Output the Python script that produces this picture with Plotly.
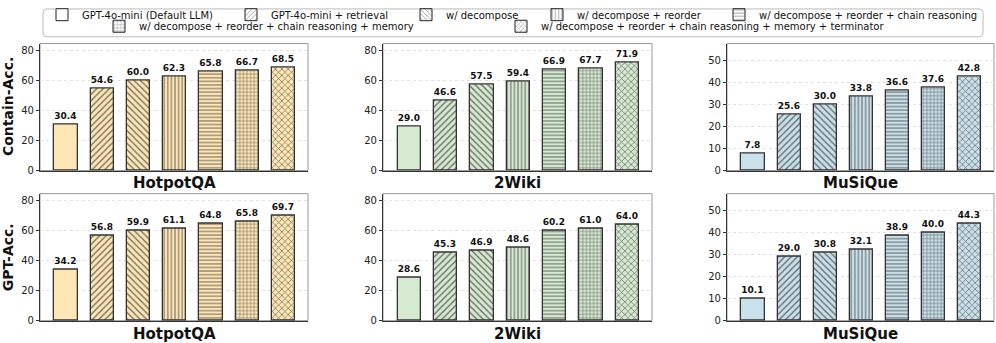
"""Ablation bars — Contain-Acc. / GPT-Acc. on HotpotQA, 2Wiki and MuSiQue.

Two rows (metric) x three columns (dataset), one hatched bar per variant.
"""
from __future__ import annotations

import plotly.graph_objects as go

FONT = "DejaVu Sans"

VARIANTS = [
    "GPT-4o-mini (Default LLM)",
    "GPT-4o-mini + retrieval",
    "w/ decompose",
    "w/ decompose + reorder",
    "w/ decompose + reorder + chain reasoning",
    "w/ decompose + reorder + chain reasoning + memory",
    "w/ decompose + reorder + chain reasoning + memory + terminator",
]
HATCHES = ["", "/", "\\", "|", "-", "+", "x"]

DATASETS = ["HotpotQA", "2Wiki", "MuSiQue"]
METRICS = ["Contain-Acc.", "GPT-Acc."]

hotpot_contain = [30.4, 54.6, 60.0, 62.3, 65.8, 66.7, 68.5]
wiki_contain = [29.0, 46.6, 57.5, 59.4, 66.9, 67.7, 71.9]
musique_contain = [7.8, 25.6, 30.0, 33.8, 36.6, 37.6, 42.8]
hotpot_gpt = [34.2, 56.8, 59.9, 61.1, 64.8, 65.8, 69.7]
wiki_gpt = [28.6, 45.3, 46.9, 48.6, 60.2, 61.0, 64.0]
musique_gpt = [10.1, 29.0, 30.8, 32.1, 38.9, 40.0, 44.3]

VALUES = [
    [hotpot_contain, wiki_contain, musique_contain],
    [hotpot_gpt, wiki_gpt, musique_gpt],
]

FILLS = ["#FFE6B5", "#D5EAD0", "#C9E1EA"]
Y_MAX = [84.5, 84.5, 57.8]
Y_DTICK = [20, 20, 10]

# layout in pixels (figure is 996 x 343, no margins)
W, H = 996, 343
COL_X = [(40, 308), (383, 652), (727, 994)]
ROW_Y = [(38, 170), (194, 326)]


def px_x(x):
    return x / W


def px_y(y):
    return 1 - y / H


fig = go.Figure()
shapes, annotations = [], []

for r, metric in enumerate(METRICS):
    for c, ds in enumerate(DATASETS):
        k = r * 3 + c + 1
        xa = "x" if k == 1 else f"x{k}"
        ya = "y" if k == 1 else f"y{k}"
        vals = VALUES[r][c]
        for i, v in enumerate(vals):
            dense = HATCHES[i] in ("|", "-", "+")
            fig.add_trace(go.Bar(
                x=[i], y=[v], xaxis=xa, yaxis=ya,
                width=0.64,
                marker=dict(
                    color=FILLS[c],
                    line=dict(color="#333333", width=1.3),
                    pattern=dict(shape=HATCHES[i], fgcolor="#3a3a3a",
                                 fgopacity=0.75,
                                 size=3.6 if dense else 4.5,
                                 solidity=0.28),
                ),
                text=[f"<b>{v:.1f}</b>"], textposition="outside",
                textfont=dict(family=FONT, size=9, color="#111111"),
                constraintext="none", cliponaxis=False,
                showlegend=False, hoverinfo="y",
            ))

        x0, x1 = COL_X[c]
        y0, y1 = ROW_Y[r]
        dom_x = [px_x(x0), px_x(x1)]
        dom_y = [px_y(y1), px_y(y0)]
        fig.layout[f"xaxis{'' if k == 1 else k}"] = dict(
            domain=dom_x, anchor=ya, range=[-0.72, 6.68],
            showticklabels=False, ticks="", showgrid=False, zeroline=False,
            showline=True, linecolor="#333333", linewidth=1.2,
        )
        fig.layout[f"yaxis{'' if k == 1 else k}"] = dict(
            domain=dom_y, anchor=xa, range=[0, Y_MAX[c]], dtick=Y_DTICK[c],
            tick0=0, ticks="outside", ticklen=3, tickcolor="#333333",
            tickfont=dict(family=FONT, size=10, color="#222222"),
            showgrid=True, gridcolor="#e2e2e2", griddash="dot", gridwidth=0.8,
            zeroline=False, showline=True, linecolor="#333333", linewidth=1.2,
        )
        # light frame on top / right
        shapes.append(dict(
            type="rect", xref="paper", yref="paper",
            x0=dom_x[0], x1=dom_x[1], y0=dom_y[0], y1=dom_y[1],
            line=dict(color="#999999", width=1), layer="below",
        ))
        annotations.append(dict(
            text=f"<b>{ds}</b>", xref="paper", yref="paper",
            x=(dom_x[0] + dom_x[1]) / 2, y=px_y(y1 + 2),
            xanchor="center", yanchor="top", showarrow=False,
            font=dict(family=FONT, size=15, color="#111111"),
        ))
    annotations.append(dict(
        text=f"<b>{metric}</b>", xref="paper", yref="paper",
        x=px_x(8), y=px_y((ROW_Y[r][0] + ROW_Y[r][1]) / 2),
        xanchor="center", yanchor="middle", textangle=-90, showarrow=False,
        font=dict(family=FONT, size=14, color="#111111"),
    ))

# legend: one legend per entry so the two rows can be placed like matplotlib
LEG_POS = [(58, 8), (247, 8), (422, 8), (553, 8), (735, 8),
           (115, 20), (517, 20)]
for i, name in enumerate(VARIANTS):
    lk = "legend" if i == 0 else f"legend{i + 1}"
    fig.add_trace(go.Bar(
        x=[None], y=[None], name=name, legend=lk,
        marker=dict(color="white", line=dict(color="#222222", width=1),
                    pattern=dict(shape=HATCHES[i], fgcolor="#222222",
                                 size=4, solidity=0.25)),
        showlegend=True,
    ))
    lx, ly = LEG_POS[i]
    fig.layout[lk] = dict(
        x=px_x(lx - 16), y=px_y(ly), xanchor="left", yanchor="middle",
        orientation="h", bgcolor="rgba(0,0,0,0)", borderwidth=0,
        font=dict(family=FONT, size=10, color="#111111"),
        itemclick=False, itemdoubleclick=False,
    )

# rounded legend frame
bx0, bx1, by0, by1, rr = 43, 983, 2, 31, 4
path = (
    f"M {px_x(bx0 + rr)} {px_y(by0)} L {px_x(bx1 - rr)} {px_y(by0)} "
    f"Q {px_x(bx1)} {px_y(by0)} {px_x(bx1)} {px_y(by0 + rr)} "
    f"L {px_x(bx1)} {px_y(by1 - rr)} "
    f"Q {px_x(bx1)} {px_y(by1)} {px_x(bx1 - rr)} {px_y(by1)} "
    f"L {px_x(bx0 + rr)} {px_y(by1)} "
    f"Q {px_x(bx0)} {px_y(by1)} {px_x(bx0)} {px_y(by1 - rr)} "
    f"L {px_x(bx0)} {px_y(by0 + rr)} "
    f"Q {px_x(bx0)} {px_y(by0)} {px_x(bx0 + rr)} {px_y(by0)} Z"
)
shapes.append(dict(type="path", path=path, xref="paper", yref="paper",
                   line=dict(color="#bbbbbb", width=1)))

fig.update_layout(
    width=W, height=H,
    margin=dict(l=0, r=0, t=0, b=0),
    plot_bgcolor="white", paper_bgcolor="white",
    barmode="overlay", bargap=0,
    shapes=shapes, annotations=annotations,
    font=dict(family=FONT),
)

# drop the default body margin so the 996x343 figure fills the window
fig.write_html("out.html", config={"displayModeBar": False},
               post_script="document.body.style.margin='0';")
